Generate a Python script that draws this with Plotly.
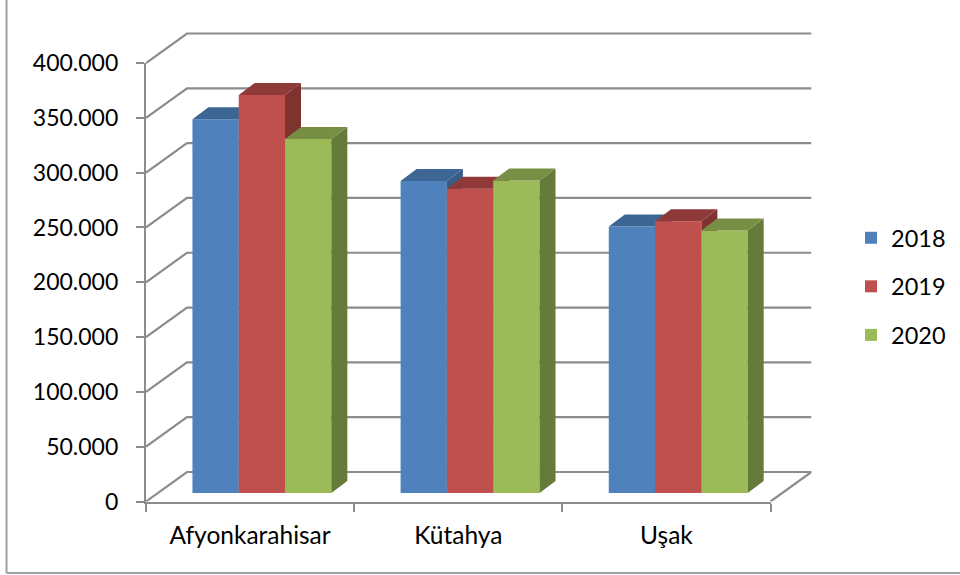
import plotly.graph_objects as go

categories = ["Afyonkarahisar", "Kütahya", "Uşak"]
years = ["2018", "2019", "2020"]
values_2018 = [341000, 284500, 243000]
values_2019 = [363000, 277500, 248000]
values_2020 = [323000, 285000, 239500]
y_ticks = [0, 50000, 100000, 150000, 200000, 250000, 300000, 350000, 400000]
y_tick_labels = ["0", "50.000", "100.000", "150.000", "200.000", "250.000", "300.000", "350.000", "400.000"]

series = [values_2018, values_2019, values_2020]
front_colors = ["#4F81BD", "#C0504D", "#9BBB59"]
top_colors = ["#3E6695", "#8F3A38", "#768F45"]
side_colors = ["#375C88", "#7F332F", "#667A3A"]

W, H = 960, 575
FONT = "Lato"
GRID = "#8C8C8C"
# pixel frame of the front plane of the axes
LEFT, RIGHT, BOTTOM, TOP = 146.0, 770.5, 501.5, 63.0
px_per_cat = (RIGHT - LEFT) / len(categories)
px_per_val = (BOTTOM - TOP) / 400000
WALL_DX, WALL_DY = 41.0 / px_per_cat, 29.5 / px_per_val
WALL_PAD = 6.0
BAR_DX, BAR_DY = 16.0 / px_per_cat, 12.0 / px_per_val
BAR_SHIFT_X, BAR_SHIFT_Y = 11.8, 8.5
BAR_W = 46.3 / px_per_cat


def xdom(a, b):
    return [a / W, b / W]


def ydom(bottom, top):
    return [(H - bottom) / H, (H - top) / H]


fig = go.Figure()

# invisible carrier so the main category axis has its labels
fig.add_trace(go.Scatter(x=categories, y=[0, 0, 0], mode="markers", marker=dict(opacity=0),
                         showlegend=False, hoverinfo="skip", xaxis="x", yaxis="y"))

# back wall and floor lines
wx, wy = [], []
for t in y_ticks:
    wx += [-0.5, -0.5 + WALL_DX, 2.5 + WALL_DX, None]
    wy += [t, t + WALL_DY, t + WALL_DY, None]
wx += [2.5, 2.5 + WALL_DX, None]
wy += [0, WALL_DY, None]
fig.add_trace(go.Scatter(x=wx, y=wy, mode="lines", line=dict(color=GRID, width=2.2),
                         showlegend=False, hoverinfo="skip", xaxis="x2", yaxis="y2", cliponaxis=False))

idx = list(range(len(categories)))
for s, vals in enumerate(series):
    ax = s + 3
    xa, ya = f"x{ax}", f"y{ax}"
    off = (s - 1.5) * BAR_W
    fig.add_trace(go.Bar(x=idx, y=vals, width=BAR_W, offset=off, name=years[s],
                         marker=dict(color=front_colors[s], line=dict(width=0)),
                         xaxis=xa, yaxis=ya, legendgroup=years[s], hovertemplate="%{y}<extra>" + years[s] + "</extra>"))
    tx, ty, sx, sy = [], [], [], []
    for i, v in zip(idx, vals):
        l, r = i + off, i + off + BAR_W
        tx += [l, l + BAR_DX, r + BAR_DX, r, l, None]
        ty += [v, v + BAR_DY, v + BAR_DY, v, v, None]
        sx += [r, r + BAR_DX, r + BAR_DX, r, r, None]
        sy += [0, BAR_DY, v + BAR_DY, v, 0, None]
    for px_, py_, c in [(sx, sy, side_colors[s]), (tx, ty, top_colors[s])]:
        fig.add_trace(go.Scatter(x=px_, y=py_, mode="lines", fill="toself", fillcolor=c,
                                 line=dict(width=0, color=c), showlegend=False, hoverinfo="skip",
                                 xaxis=xa, yaxis=ya, cliponaxis=False))

layout = dict(
    width=W, height=H, autosize=False,
    margin=dict(l=0, r=0, t=0, b=0, autoexpand=False),
    paper_bgcolor="white", plot_bgcolor="rgba(0,0,0,0)",
    font=dict(family=FONT, size=23, color="black"),
    barmode="overlay",
    legend=dict(x=851 / W, y=(H - 216) / H, xanchor="left", yanchor="top", tracegroupgap=15,
                bgcolor="rgba(0,0,0,0)", traceorder="grouped", font=dict(size=23.5)),
    shapes=[
        dict(type="line", xref="paper", yref="paper", x0=6.5 / W, x1=6.5 / W, y0=(H - 573) / H, y1=1,
             line=dict(color="#A0A0A0", width=2)),
        dict(type="line", xref="paper", yref="paper", x0=6.5 / W, x1=1, y0=(H - 573) / H, y1=(H - 573) / H,
             line=dict(color="#A0A0A0", width=2)),
    ],
    xaxis=dict(domain=xdom(LEFT, RIGHT), range=[-0.5, 2.5], type="category", tickson="boundaries",
               ticks="outside", ticklen=8, tickwidth=2, tickcolor=GRID, showgrid=False, zeroline=False,
               showline=True, linecolor=GRID, linewidth=2.2, anchor="y", ticklabelstandoff=11,
               tickfont=dict(size=24.5)),
    yaxis=dict(domain=ydom(BOTTOM, TOP), range=[0, 400000], tickvals=y_ticks, ticktext=y_tick_labels,
               ticks="outside", ticklen=8, tickwidth=2, tickcolor=GRID, showgrid=False, zeroline=False,
               showline=True, linecolor=GRID, linewidth=2.2, anchor="x", ticklabelstandoff=13),
    xaxis2=dict(domain=xdom(LEFT, RIGHT + 41), range=[-0.5, 2.5 + WALL_DX], visible=False, anchor="y2"),
    yaxis2=dict(domain=ydom(BOTTOM, TOP - 29.5 - WALL_PAD),
                range=[0, 400000 + WALL_DY + WALL_PAD / px_per_val], visible=False, anchor="x2"),
)
for s in range(3):
    ax = s + 3
    layout[f"xaxis{ax}"] = dict(domain=xdom(LEFT + BAR_SHIFT_X, RIGHT + BAR_SHIFT_X), range=[-0.5, 2.5],
                                visible=False, anchor=f"y{ax}")
    layout[f"yaxis{ax}"] = dict(domain=ydom(BOTTOM - BAR_SHIFT_Y, TOP - BAR_SHIFT_Y), range=[0, 400000],
                                visible=False, anchor=f"x{ax}")
fig.update_layout(**layout)
fig.write_html("out.html", config={"displayModeBar": False},
               post_script="document.body.style.margin='0';")
